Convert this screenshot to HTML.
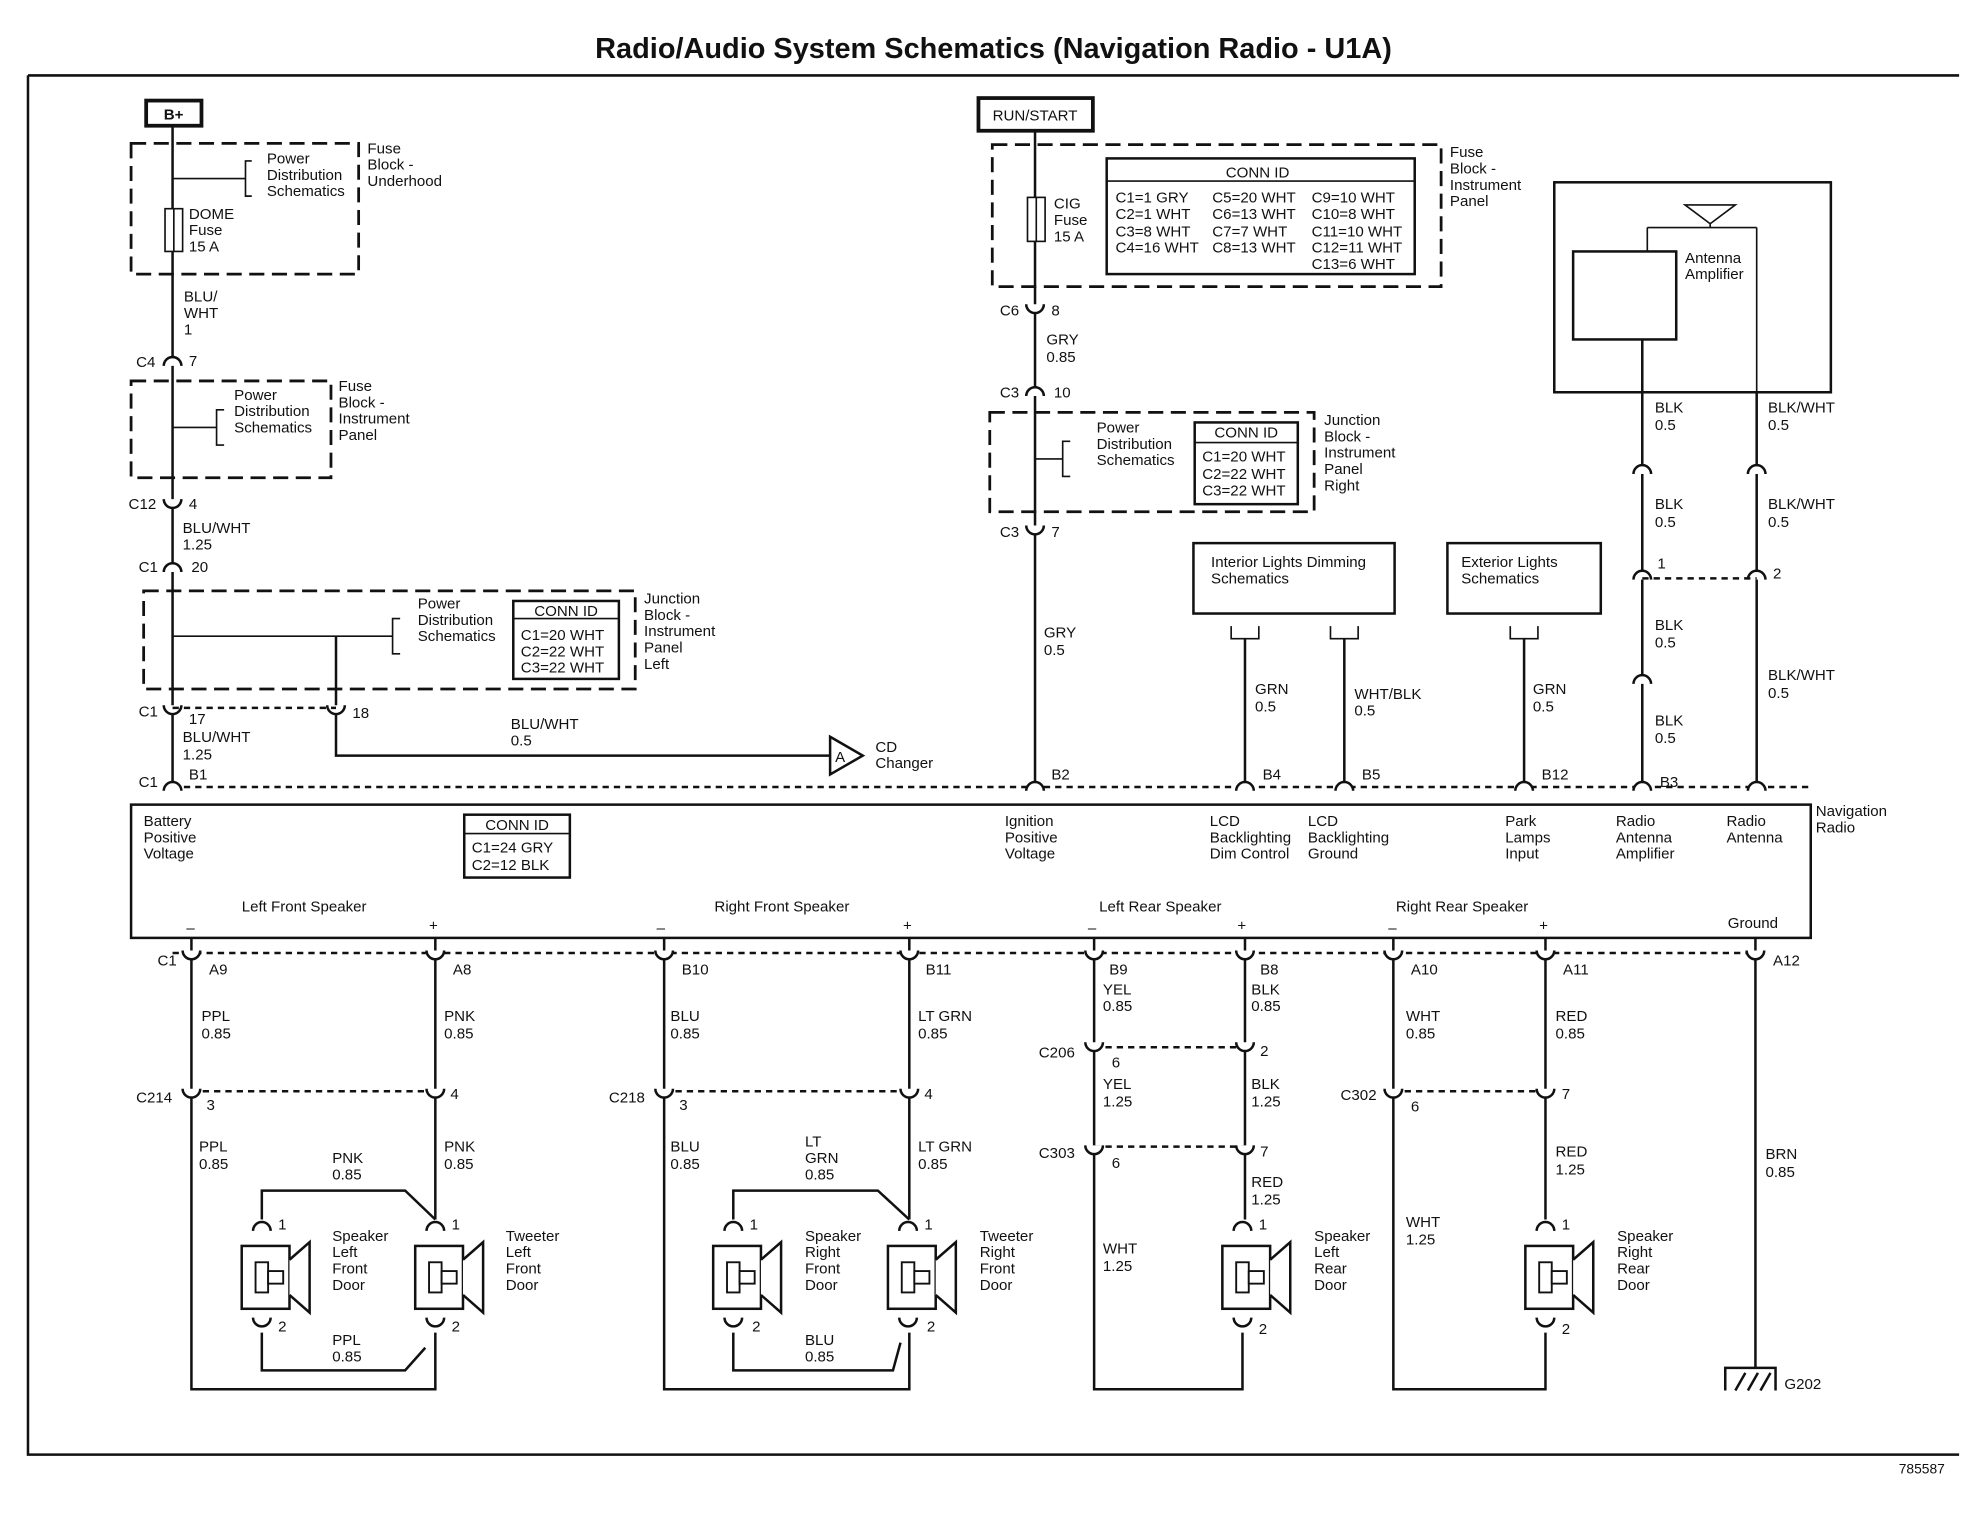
<!DOCTYPE html>
<html><head><meta charset="utf-8"><style>
html,body{margin:0;padding:0;background:#fff;}
svg{display:block;}
text{font-family:"Liberation Sans",sans-serif;font-size:12px;fill:#111;}
.w{stroke:#111;stroke-width:2;fill:none;}
.t{stroke:#111;stroke-width:1.3;fill:none;}
.d{stroke:#111;stroke-width:2;fill:none;stroke-dasharray:5,4;}
.db{stroke:#111;stroke-width:2.2;fill:none;stroke-dasharray:12,6;}
</style></head><body>
<svg width="1972" height="1520" viewBox="0 0 1568 1209" xmlns="http://www.w3.org/2000/svg">
<defs>
<path id="cu" d="M-7,4 A7,7 0 0 1 7,4" stroke="#111" stroke-width="2" fill="#fff"/>
<path id="cd" d="M-7,-4 A7,7 0 0 0 7,-4" stroke="#111" stroke-width="2" fill="#fff"/>
<g id="spk"><rect x="-16" y="-25" width="38" height="50" fill="#fff" stroke="#111" stroke-width="2"/><rect x="-5" y="-12" width="10" height="24" fill="#fff" stroke="#111" stroke-width="1.5"/><rect x="5" y="-5" width="12" height="10" fill="#fff" stroke="#111" stroke-width="1.5"/><path d="M22,-14 L38,-28 L38,28 L22,14" stroke="#111" stroke-width="2" fill="#fff"/></g>
</defs>
<text x="790" y="46" text-anchor="middle" style="font-size:23px;font-weight:bold">Radio/Audio System Schematics (Navigation Radio - U1A)</text>
<path d="M22,60 H1558 M22,60 V1157 H1558" class="w"/>
<text x="1510" y="1172" style="font-size:11px">785587</text>

<!-- Left column -->
<rect x="116" y="80" width="44" height="20" fill="#fff" stroke="#111" stroke-width="3"/><text x="130" y="95" style="font-weight:bold">B+</text>
<path d="M137,100 V166 M137,200 V626" class="w"/>
<rect x="131" y="166" width="14" height="34" class="t"/><path d="M138,166 V200" class="t"/>
<rect x="104" y="114" width="181" height="104" class="db"/>
<path d="M137,142 H195 M200,128 H195 V156 H200" class="t"/>
<text x="212" y="130">Power</text><text x="212" y="143">Distribution</text><text x="212" y="156">Schematics</text>
<text x="292" y="122">Fuse</text><text x="292" y="135">Block -</text><text x="292" y="148">Underhood</text>
<text x="150" y="174">DOME</text><text x="150" y="187">Fuse</text><text x="150" y="200">15 A</text>
<text x="146" y="240">BLU/</text><text x="146" y="253">WHT</text><text x="146" y="266">1</text>
<use href="#cu" x="137" y="287"/><text x="108" y="292">C4</text><text x="150" y="291">7</text>
<rect x="104" y="303" width="159" height="77" class="db"/>
<path d="M137,340 H172 M178,326 H172 V354 H178" class="t"/>
<text x="186" y="318">Power</text><text x="186" y="331">Distribution</text><text x="186" y="344">Schematics</text>
<text x="269" y="311">Fuse</text><text x="269" y="324">Block -</text><text x="269" y="337">Instrument</text><text x="269" y="350">Panel</text>
<use href="#cd" x="137" y="401"/><text x="102" y="405">C12</text><text x="150" y="405">4</text>
<text x="145" y="424">BLU/WHT</text><text x="145" y="437">1.25</text>
<use href="#cu" x="137" y="451"/><text x="110" y="455">C1</text><text x="152" y="455">20</text>
<rect x="114" y="470" width="391" height="78" class="db"/>
<path d="M137,506 H312 M318,492 H312 V520 H318" class="t"/>
<text x="332" y="484">Power</text><text x="332" y="497">Distribution</text><text x="332" y="510">Schematics</text>
<rect x="408" y="478" width="84" height="62" class="w"/><path d="M408,492 H492" class="t"/>
<text x="450" y="490" text-anchor="middle">CONN ID</text><text x="414" y="509">C1=20 WHT</text><text x="414" y="522">C2=22 WHT</text><text x="414" y="535">C3=22 WHT</text>
<text x="512" y="480">Junction</text><text x="512" y="493">Block -</text><text x="512" y="506">Instrument</text><text x="512" y="519">Panel</text><text x="512" y="532">Left</text>
<path d="M267,506 V601 H660" class="w"/>
<use href="#cd" x="137" y="565"/><use href="#cd" x="267" y="565"/>
<path d="M137,563 H267" class="d"/>
<text x="110" y="570">C1</text><text x="150" y="576">17</text><text x="280" y="571">18</text>
<text x="145" y="590">BLU/WHT</text><text x="145" y="604">1.25</text>
<text x="406" y="580">BLU/WHT</text><text x="406" y="593">0.5</text>
<path d="M660,586 L686,601 L660,616 Z" fill="#fff" stroke="#111" stroke-width="2"/><text x="664" y="606">A</text>
<text x="696" y="598">CD</text><text x="696" y="611">Changer</text>

<!-- Center -->
<rect x="778" y="78" width="91" height="26" fill="#fff" stroke="#111" stroke-width="3"/><text x="823" y="96" text-anchor="middle">RUN/START</text>
<path d="M823,104 V157 M823,192 V626" class="w"/>
<rect x="817" y="157" width="14" height="35" class="t"/><path d="M824,157 V192" class="t"/>
<rect x="789" y="115" width="357" height="113" class="db"/>
<text x="838" y="166">CIG</text><text x="838" y="179">Fuse</text><text x="838" y="192">15 A</text>
<rect x="880" y="126" width="245" height="92" class="w"/><path d="M880,144 H1125" class="t"/>
<text x="1000" y="141" text-anchor="middle">CONN ID</text>
<text x="887" y="161">C1=1 GRY</text><text x="964" y="161">C5=20 WHT</text><text x="1043" y="161">C9=10 WHT</text>
<text x="887" y="174">C2=1 WHT</text><text x="964" y="174">C6=13 WHT</text><text x="1043" y="174">C10=8 WHT</text>
<text x="887" y="188">C3=8 WHT</text><text x="964" y="188">C7=7 WHT</text><text x="1043" y="188">C11=10 WHT</text>
<text x="887" y="201">C4=16 WHT</text><text x="964" y="201">C8=13 WHT</text><text x="1043" y="201">C12=11 WHT</text>
<text x="1043" y="214">C13=6 WHT</text>
<text x="1153" y="125">Fuse</text><text x="1153" y="138">Block -</text><text x="1153" y="151">Instrument</text><text x="1153" y="164">Panel</text>
<use href="#cd" x="823" y="246"/><text x="795" y="251">C6</text><text x="836" y="251">8</text>
<text x="832" y="274">GRY</text><text x="832" y="288">0.85</text>
<use href="#cu" x="823" y="311"/><text x="795" y="316">C3</text><text x="838" y="316">10</text>
<rect x="787" y="328" width="258" height="79" class="db"/>
<path d="M823,365 H845 M851,351 H845 V379 H851" class="t"/>
<text x="872" y="344">Power</text><text x="872" y="357">Distribution</text><text x="872" y="370">Schematics</text>
<rect x="950" y="336" width="82" height="65" class="w"/><path d="M950,352 H1032" class="t"/>
<text x="991" y="348" text-anchor="middle">CONN ID</text><text x="956" y="367">C1=20 WHT</text><text x="956" y="381">C2=22 WHT</text><text x="956" y="394">C3=22 WHT</text>
<text x="1053" y="338">Junction</text><text x="1053" y="351">Block -</text><text x="1053" y="364">Instrument</text><text x="1053" y="377">Panel</text><text x="1053" y="390">Right</text>
<use href="#cd" x="823" y="422"/><text x="795" y="427">C3</text><text x="836" y="427">7</text>
<text x="830" y="507">GRY</text><text x="830" y="521">0.5</text>

<rect x="949" y="432" width="160" height="56" class="w"/><text x="963" y="451">Interior Lights Dimming</text><text x="963" y="464">Schematics</text>
<path d="M979,498 V508 H1001 V498 M1058,498 V508 H1080 V498" class="t"/>
<path d="M990,508 V626 M1069,508 V626" class="w"/>
<text x="998" y="552">GRN</text><text x="998" y="566">0.5</text><text x="1077" y="556">WHT/BLK</text><text x="1077" y="569">0.5</text>
<rect x="1151" y="432" width="122" height="56" class="w"/><text x="1162" y="451">Exterior Lights</text><text x="1162" y="464">Schematics</text>
<path d="M1201,498 V508 H1223 V498" class="t"/><path d="M1212,508 V626" class="w"/>
<text x="1219" y="552">GRN</text><text x="1219" y="566">0.5</text>

<rect x="1236" y="145" width="220" height="167" class="w"/>
<rect x="1251" y="200" width="82" height="70" class="w"/>
<path d="M1340,163 H1380 L1360,178 Z M1360,178 V181 M1310,181 H1397 M1310,181 V200 M1397,181 V312" class="t"/>
<text x="1340" y="209">Antenna</text><text x="1340" y="222">Amplifier</text>
<path d="M1306,270 V626 M1397,312 V626" class="w"/>
<text x="1316" y="328">BLK</text><text x="1316" y="342">0.5</text><text x="1406" y="328">BLK/WHT</text><text x="1406" y="342">0.5</text>
<use href="#cu" x="1306" y="373"/><use href="#cu" x="1397" y="373"/>
<text x="1316" y="405">BLK</text><text x="1316" y="419">0.5</text><text x="1406" y="405">BLK/WHT</text><text x="1406" y="419">0.5</text>
<use href="#cu" x="1306" y="457"/><use href="#cu" x="1397" y="457"/><path d="M1306,460 H1397" class="d"/>
<text x="1318" y="452">1</text><text x="1410" y="460">2</text>
<text x="1316" y="501">BLK</text><text x="1316" y="515">0.5</text><text x="1406" y="541">BLK/WHT</text><text x="1406" y="555">0.5</text>
<use href="#cu" x="1306" y="540"/>
<text x="1316" y="577">BLK</text><text x="1316" y="591">0.5</text>

<!-- Radio top connectors -->
<path d="M137,626 H1440" class="d"/>
<use href="#cu" x="137" y="625"/><use href="#cu" x="823" y="625"/><use href="#cu" x="990" y="625"/><use href="#cu" x="1069" y="625"/><use href="#cu" x="1212" y="625"/><use href="#cu" x="1306" y="625"/><use href="#cu" x="1397" y="625"/>
<text x="110" y="626">C1</text><text x="150" y="620">B1</text><text x="836" y="620">B2</text><text x="1004" y="620">B4</text><text x="1083" y="620">B5</text><text x="1226" y="620">B12</text><text x="1320" y="626">B3</text>

<rect x="104" y="640" width="1336" height="106" class="w"/>
<text x="114" y="657">Battery</text><text x="114" y="670">Positive</text><text x="114" y="683">Voltage</text>
<rect x="369" y="648" width="84" height="50" class="w"/><path d="M369,663 H453" class="t"/>
<text x="411" y="660" text-anchor="middle">CONN ID</text><text x="375" y="678">C1=24 GRY</text><text x="375" y="692">C2=12 BLK</text>
<text x="799" y="657">Ignition</text><text x="799" y="670">Positive</text><text x="799" y="683">Voltage</text>
<text x="962" y="657">LCD</text><text x="962" y="670">Backlighting</text><text x="962" y="683">Dim Control</text>
<text x="1040" y="657">LCD</text><text x="1040" y="670">Backlighting</text><text x="1040" y="683">Ground</text>
<text x="1197" y="657">Park</text><text x="1197" y="670">Lamps</text><text x="1197" y="683">Input</text>
<text x="1285" y="657">Radio</text><text x="1285" y="670">Antenna</text><text x="1285" y="683">Amplifier</text>
<text x="1373" y="657">Radio</text><text x="1373" y="670">Antenna</text>
<text x="1444" y="649">Navigation</text><text x="1444" y="662">Radio</text>
<text x="192" y="725">Left Front Speaker</text><text x="568" y="725">Right Front Speaker</text><text x="874" y="725">Left Rear Speaker</text><text x="1110" y="725">Right Rear Speaker</text>
<text x="1374" y="738">Ground</text>
<text x="148" y="742">–</text><text x="341" y="740">+</text><text x="522" y="742">–</text><text x="718" y="740">+</text><text x="865" y="742">–</text><text x="984" y="740">+</text><text x="1104" y="742">–</text><text x="1224" y="740">+</text>

<!-- Bottom wiring -->
<path d="M152,746 V1105 H346 V1060 M346,746 V970" class="w"/>
<path d="M528,746 V1105 H723 V1060 M723,746 V970" class="w"/>
<path d="M870,746 V1105 H988 V1060 M990,746 V970" class="w"/>
<path d="M1108,746 V1105 H1229 V1060 M1229,746 V970" class="w"/>
<path d="M1396,746 V1088" class="w"/>
<path d="M208,970 V947 H322 L346,970 M208,1060 V1090 H322 L338,1072" class="w"/>
<path d="M583,970 V947 H698 L723,970 M583,1060 V1090 H710 L716,1068" class="w"/>
<path d="M137,758 H1396" class="d"/>
<g>
<use href="#cd" x="152" y="760"/><use href="#cd" x="346" y="760"/><use href="#cd" x="528" y="760"/><use href="#cd" x="723" y="760"/><use href="#cd" x="870" y="760"/><use href="#cd" x="990" y="760"/><use href="#cd" x="1108" y="760"/><use href="#cd" x="1229" y="760"/><use href="#cd" x="1396" y="760"/>
</g>
<text x="125" y="768">C1</text><text x="166" y="775">A9</text><text x="360" y="775">A8</text><text x="542" y="775">B10</text><text x="736" y="775">B11</text><text x="882" y="775">B9</text><text x="1002" y="775">B8</text><text x="1122" y="775">A10</text><text x="1243" y="775">A11</text><text x="1410" y="768">A12</text>
<text x="160" y="812">PPL</text><text x="160" y="826">0.85</text><text x="353" y="812">PNK</text><text x="353" y="826">0.85</text>
<text x="533" y="812">BLU</text><text x="533" y="826">0.85</text><text x="730" y="812">LT GRN</text><text x="730" y="826">0.85</text>
<text x="877" y="791">YEL</text><text x="877" y="804">0.85</text><text x="995" y="791">BLK</text><text x="995" y="804">0.85</text>
<text x="1118" y="812">WHT</text><text x="1118" y="826">0.85</text><text x="1237" y="812">RED</text><text x="1237" y="826">0.85</text>
<path d="M152,868 H346 M528,868 H723 M870,833 H990 M870,912 H990 M1108,868 H1229" class="d"/>
<use href="#cd" x="152" y="870"/><use href="#cd" x="346" y="870"/><use href="#cd" x="528" y="870"/><use href="#cd" x="723" y="870"/>
<use href="#cd" x="870" y="833"/><use href="#cd" x="990" y="833"/><use href="#cd" x="870" y="915"/><use href="#cd" x="990" y="915"/>
<use href="#cd" x="1108" y="870"/><use href="#cd" x="1229" y="870"/>
<text x="108" y="877">C214</text><text x="164" y="883">3</text><text x="358" y="874">4</text>
<text x="484" y="877">C218</text><text x="540" y="883">3</text><text x="735" y="874">4</text>
<text x="826" y="841">C206</text><text x="884" y="849">6</text><text x="1002" y="840">2</text>
<text x="826" y="921">C303</text><text x="884" y="929">6</text><text x="1002" y="920">7</text>
<text x="1066" y="875">C302</text><text x="1122" y="884">6</text><text x="1242" y="874">7</text>
<text x="158" y="916">PPL</text><text x="158" y="930">0.85</text><text x="264" y="925">PNK</text><text x="264" y="938">0.85</text><text x="353" y="916">PNK</text><text x="353" y="930">0.85</text>
<text x="533" y="916">BLU</text><text x="533" y="930">0.85</text><text x="640" y="912">LT</text><text x="640" y="925">GRN</text><text x="640" y="938">0.85</text><text x="730" y="916">LT GRN</text><text x="730" y="930">0.85</text>
<text x="877" y="866">YEL</text><text x="877" y="880">1.25</text><text x="995" y="866">BLK</text><text x="995" y="880">1.25</text>
<text x="995" y="944">RED</text><text x="995" y="958">1.25</text><text x="877" y="997">WHT</text><text x="877" y="1011">1.25</text>
<text x="1118" y="976">WHT</text><text x="1118" y="990">1.25</text><text x="1237" y="920">RED</text><text x="1237" y="934">1.25</text>
<text x="1404" y="922">BRN</text><text x="1404" y="936">0.85</text>
<text x="264" y="1070">PPL</text><text x="264" y="1083">0.85</text><text x="640" y="1070">BLU</text><text x="640" y="1083">0.85</text>
<!-- speakers -->
<g><use href="#spk" x="208" y="1016"/><use href="#spk" x="346" y="1016"/><use href="#spk" x="583" y="1016"/><use href="#spk" x="722" y="1016"/><use href="#spk" x="988" y="1016"/><use href="#spk" x="1229" y="1016"/></g>
<g>
<use href="#cu" x="208" y="975"/><use href="#cu" x="346" y="975"/><use href="#cu" x="583" y="975"/><use href="#cu" x="722" y="975"/><use href="#cu" x="988" y="975"/><use href="#cu" x="1229" y="975"/>
<use href="#cd" x="208" y="1052"/><use href="#cd" x="346" y="1052"/><use href="#cd" x="583" y="1052"/><use href="#cd" x="722" y="1052"/><use href="#cd" x="988" y="1052"/><use href="#cd" x="1229" y="1052"/>
</g>
<text x="221" y="978">1</text><text x="359" y="978">1</text><text x="596" y="978">1</text><text x="735" y="978">1</text><text x="1001" y="978">1</text><text x="1242" y="978">1</text>
<text x="221" y="1059">2</text><text x="359" y="1059">2</text><text x="598" y="1059">2</text><text x="737" y="1059">2</text><text x="1001" y="1061">2</text><text x="1242" y="1061">2</text>
<text x="264" y="987">Speaker</text><text x="264" y="1000">Left</text><text x="264" y="1013">Front</text><text x="264" y="1026">Door</text>
<text x="402" y="987">Tweeter</text><text x="402" y="1000">Left</text><text x="402" y="1013">Front</text><text x="402" y="1026">Door</text>
<text x="640" y="987">Speaker</text><text x="640" y="1000">Right</text><text x="640" y="1013">Front</text><text x="640" y="1026">Door</text>
<text x="779" y="987">Tweeter</text><text x="779" y="1000">Right</text><text x="779" y="1013">Front</text><text x="779" y="1026">Door</text>
<text x="1045" y="987">Speaker</text><text x="1045" y="1000">Left</text><text x="1045" y="1013">Rear</text><text x="1045" y="1026">Door</text>
<text x="1286" y="987">Speaker</text><text x="1286" y="1000">Right</text><text x="1286" y="1013">Rear</text><text x="1286" y="1026">Door</text>
<path d="M1372,1106 V1088 H1412 V1106 M1380,1106 L1388,1092 M1390,1106 L1398,1092 M1400,1106 L1408,1092" class="w"/>
<text x="1419" y="1105">G202</text>
</svg>
</body></html>
